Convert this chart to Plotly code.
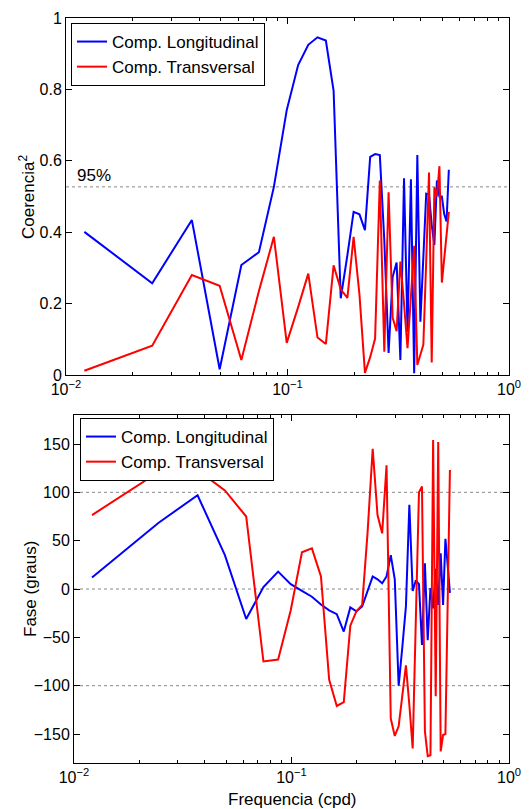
import plotly.graph_objects as go

# ---------------- data ----------------
freq = [0.0121, 0.0245, 0.0370, 0.0494, 0.0619, 0.0743, 0.0868, 0.0992, 0.1117, 0.1241,
        0.1366, 0.1490, 0.1615, 0.1739, 0.1864, 0.1988, 0.2113, 0.2237, 0.2362, 0.2486,
        0.2611, 0.2735, 0.2860, 0.2984, 0.3109, 0.3233, 0.3358, 0.3482, 0.3607, 0.3731,
        0.3856, 0.3980, 0.4105, 0.4229, 0.4354, 0.4478, 0.4603, 0.4727, 0.4852, 0.4976,
        0.5101, 0.5225, 0.5350]

coh_long = [0.401, 0.257, 0.434, 0.016, 0.308, 0.344, 0.527, 0.742, 0.868, 0.925,
            0.946, 0.937, 0.796, 0.215, 0.336, 0.457, 0.450, 0.406, 0.611, 0.619,
            0.616, 0.378, 0.062, 0.275, 0.315, 0.042, 0.551, 0.121, 0.548, 0.005,
            0.616, 0.149, 0.330, 0.508, 0.505, 0.420, 0.364, 0.545, 0.500, 0.500,
            0.450, 0.430, 0.575]

coh_trans = [0.012, 0.082, 0.280, 0.250, 0.042, 0.235, 0.387, 0.090, 0.190, 0.284,
             0.105, 0.087, 0.307, 0.240, 0.216, 0.387, 0.225, 0.006, 0.050, 0.102,
             0.545, 0.065, 0.512, 0.160, 0.123, 0.318, 0.200, 0.075, 0.220, 0.362,
             0.028, 0.060, 0.085, 0.320, 0.567, 0.035, 0.526, 0.500, 0.585, 0.259,
             0.330, 0.400, 0.457]

phase_long = [12, 68.6, 97, 35, -31, 2, 18, 5, -2, -8,
              -16, -22, -26, -44, -19, -23, -18, -3, 13, 10,
              6, 13, 35, 10, -100, -60, -18, 87, -2, 9,
              5, -58, 26.5, -53, 1, -20, 21, -16.5, 37, -16.5,
              52, 25, -4]

phase_trans = [76.5, 121, 123, 102, 75, -75, -73, -22, 38, 42,
               13, -94, -121, -117, -38, -23, -16.5, 58, 145, 76.5,
               57.6, 128, -134, -152, -142, -110, -79, -120, -165, -30,
               100, 106, -147, -173, -172, 154, -111, 152, -168, -151,
               -150, -14, 123]

coh95 = 0.527
phase_ref = [100, 0, -100]

names = ["Comp. Longitudinal", "Comp. Transversal"]
colors = ["#0000FF", "#FF0000"]

x_ticks = [0.01, 0.1, 1]
x_ticktext = ["10<sup>\u22122</sup>", "10<sup>\u22121</sup>", "10<sup>0</sup>"]
x_minor = [0.02, 0.03, 0.04, 0.05, 0.06, 0.07, 0.08, 0.09,
           0.2, 0.3, 0.4, 0.5, 0.6, 0.7, 0.8, 0.9]
coh_ticks = [0, 0.2, 0.4, 0.6, 0.8, 1]
coh_ticktext = ["0", "0.2", "0.4", "0.6", "0.8", "1"]
phase_ticks = [-150, -100, -50, 0, 50, 100, 150]

# ---------------- figure ----------------
W, H = 532, 809
FONT = "Liberation Sans, Arial, Helvetica, sans-serif"
FS = 16

fig = go.Figure()
for vals, nm, c in [(coh_long, names[0], colors[0]), (coh_trans, names[1], colors[1])]:
    fig.add_trace(go.Scatter(x=freq, y=vals, mode="lines", name=nm,
                             line=dict(color=c, width=2), xaxis="x", yaxis="y",
                             legend="legend"))
for vals, nm, c in [(phase_long, names[0], colors[0]), (phase_trans, names[1], colors[1])]:
    fig.add_trace(go.Scatter(x=freq, y=vals, mode="lines", name=nm,
                             line=dict(color=c, width=2), xaxis="x2", yaxis="y2",
                             legend="legend2"))


def px_x(p):
    return p / W


def px_y(p):
    return 1 - p / H


common_x = dict(type="log", range=[-2, 0], tickvals=x_ticks, ticktext=x_ticktext,
                ticks="inside", ticklen=6, tickcolor="black", showline=True,
                linecolor="black", linewidth=1, mirror="ticks", showgrid=False,
                zeroline=False, tickfont=dict(family=FONT, size=FS, color="black"),
                minor=dict(tickvals=x_minor, ticks="inside", ticklen=3,
                           tickcolor="black", showgrid=False))
common_y = dict(ticks="inside", ticklen=6, tickcolor="black", showline=True,
                linecolor="black", linewidth=1, mirror="ticks", showgrid=False,
                zeroline=False, tickfont=dict(family=FONT, size=FS, color="black"))

fig.update_layout(
    width=W, height=H,
    margin=dict(l=0, r=0, t=0, b=0, autoexpand=False),
    paper_bgcolor="white", plot_bgcolor="white",
    font=dict(family=FONT, size=FS, color="black"),
    xaxis=dict(domain=[px_x(66), px_x(509)], anchor="y", **common_x),
    yaxis=dict(domain=[px_y(375), px_y(18)], anchor="x", range=[0, 1],
               tickvals=coh_ticks, ticktext=coh_ticktext, **common_y),
    xaxis2=dict(domain=[px_x(74), px_x(509)], anchor="y2", **common_x),
    yaxis2=dict(domain=[px_y(763), px_y(415)], anchor="x2", range=[-180, 180],
                tickvals=phase_ticks, **common_y),
    legend=dict(x=px_x(71), y=px_y(23), xanchor="left", yanchor="top",
                bgcolor="white", bordercolor="black", borderwidth=1,
                font=dict(family=FONT, size=17, color="black"), tracegroupgap=0),
    legend2=dict(x=px_x(80), y=px_y(418), xanchor="left", yanchor="top",
                 bgcolor="white", bordercolor="black", borderwidth=1,
                 font=dict(family=FONT, size=17, color="black"), tracegroupgap=0),
    showlegend=True,
)

# reference (dotted) lines
fig.add_shape(type="line", xref="x domain", yref="y", x0=0, x1=1, y0=coh95, y1=coh95,
              line=dict(color="#888888", width=1, dash="dot"), layer="below")
for v in phase_ref:
    fig.add_shape(type="line", xref="x2 domain", yref="y2", x0=0, x1=1, y0=v, y1=v,
                  line=dict(color="#888888", width=1, dash="dot"), layer="below")

# texts
fig.add_annotation(text="95%", xref="x domain", yref="y", x=0.02, y=coh95,
                   xanchor="left", yanchor="bottom", showarrow=False,
                   font=dict(family=FONT, size=17, color="black"))
fig.add_annotation(text="Coerencia<sup>2</sup>", xref="paper", yref="paper",
                   x=px_x(27), y=px_y(197), textangle=-90, showarrow=False,
                   xanchor="center", yanchor="middle",
                   font=dict(family=FONT, size=17, color="black"))
fig.add_annotation(text="Fase (graus)", xref="paper", yref="paper",
                   x=px_x(30), y=px_y(589), textangle=-90, showarrow=False,
                   xanchor="center", yanchor="middle",
                   font=dict(family=FONT, size=17, color="black"))
fig.add_annotation(text="Frequencia (cpd)", xref="paper", yref="paper",
                   x=px_x(292), y=px_y(799), showarrow=False,
                   xanchor="center", yanchor="middle",
                   font=dict(family=FONT, size=17, color="black"))

fig.write_html("out.html", config={"displayModeBar": False},
               post_script="document.body.style.margin='0px';document.body.style.padding='0px';")
